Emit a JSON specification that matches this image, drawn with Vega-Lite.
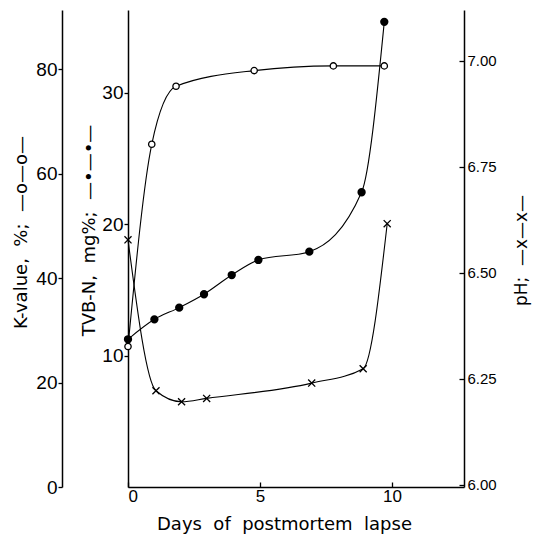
{
  "$schema": "https://vega.github.io/schema/vega-lite/v6.json",
  "width": 336,
  "height": 477,
  "autosize": {"type": "none"},
  "padding": {"left": 128, "top": 10, "right": 76, "bottom": 55},
  "background": "white",
  "config": {
    "view": {"stroke": null},
    "axis": {
      "domainColor": "black", "tickColor": "black", "labelColor": "black", "titleColor": "black",
      "grid": false, "labelFont": "Liberation Sans", "titleFont": "DejaVu Sans",
      "domainWidth": 1.5, "tickWidth": 1.3, "titleFontWeight": "normal"
    }
  },
  "datasets": {
    "kvalue": [
      {"day": 0, "k": 26.9}, {"day": 0.9, "k": 65.6}, {"day": 1.82, "k": 76.7},
      {"day": 4.78, "k": 79.7}, {"day": 7.78, "k": 80.6}, {"day": 9.71, "k": 80.6}
    ],
    "tvbn": [
      {"day": 0, "tvbn": 11.24}, {"day": 1.0, "tvbn": 12.76}, {"day": 1.94, "tvbn": 13.65},
      {"day": 2.88, "tvbn": 14.67}, {"day": 3.93, "tvbn": 16.13}, {"day": 4.94, "tvbn": 17.28},
      {"day": 6.87, "tvbn": 17.91}, {"day": 8.85, "tvbn": 22.43}, {"day": 9.71, "tvbn": 35.4}
    ],
    "ph": [
      {"day": 0, "ph": 6.578}, {"day": 1.06, "ph": 6.222}, {"day": 2.03, "ph": 6.196},
      {"day": 2.98, "ph": 6.204}, {"day": 6.96, "ph": 6.24}, {"day": 8.91, "ph": 6.274},
      {"day": 9.82, "ph": 6.616}
    ]
  },
  "layer": [
    {
      "data": {"name": "kvalue"},
      "mark": {
        "type": "line", "interpolate": "monotone", "color": "black", "strokeWidth": 1.1,
        "point": {"filled": true, "fill": "white", "stroke": "black", "strokeWidth": 1.3, "size": 40}
      },
      "encoding": {
        "x": {
          "field": "day", "type": "quantitative",
          "scale": {"domain": [0, 12.73], "nice": false, "zero": false},
          "axis": {
            "values": [0, 5, 10], "title": "Days\u00a0\u00a0of\u00a0\u00a0postmortem\u00a0\u00a0lapse", "titleFontSize": 18,
            "labelFontSize": 17, "tickSize": -5, "labelPadding": 6, "titlePadding": 11,
            "titleX": 156
          }
        },
        "y": {
          "field": "k", "type": "quantitative",
          "scale": {"domain": [0, 91.3], "nice": false, "zero": false},
          "axis": {
            "orient": "left", "offset": 66, "values": [0, 20, 40, 60, 80],
            "title": "K-value,\u00a0\u00a0%;\u00a0\u00a0—o—o—", "titleFontSize": 18, "labelFontSize": 19,
            "tickSize": 4, "labelPadding": 1, "titlePadding": 5, "titleY": 222
          }
        }
      }
    },
    {
      "data": {"name": "tvbn"},
      "mark": {
        "type": "line", "interpolate": "monotone", "color": "black", "strokeWidth": 1.1,
        "point": {"filled": true, "fill": "black", "stroke": "black", "size": 40}
      },
      "encoding": {
        "x": {
          "field": "day", "type": "quantitative",
          "scale": {"domain": [0, 12.73], "nice": false, "zero": false},
          "axis": {
            "values": [0, 5, 10], "title": "Days\u00a0\u00a0of\u00a0\u00a0postmortem\u00a0\u00a0lapse", "titleFontSize": 18,
            "labelFontSize": 17, "tickSize": -5, "labelPadding": 6, "titlePadding": 11,
            "titleX": 156
          }
        },
        "y": {
          "field": "tvbn", "type": "quantitative",
          "scale": {"domain": [0, 36.3], "nice": false, "zero": false},
          "axis": {
            "orient": "left", "offset": 0, "values": [10, 20, 30],
            "title": "TVB-N,\u00a0\u00a0mg%;\u00a0\u00a0—•—•—", "titleFontSize": 18, "labelFontSize": 19,
            "tickSize": 4, "labelPadding": 1, "titlePadding": 3, "titleY": 220
          }
        }
      }
    },
    {
      "data": {"name": "ph"},
      "mark": {
        "type": "line", "interpolate": "monotone", "color": "black", "strokeWidth": 1.1,
        "point": {"shape": "M-1,-1L1,1M-1,1L1,-1", "filled": false, "stroke": "black", "strokeWidth": 1.3, "size": 50}
      },
      "encoding": {
        "x": {
          "field": "day", "type": "quantitative",
          "scale": {"domain": [0, 12.73], "nice": false, "zero": false},
          "axis": {
            "values": [0, 5, 10], "title": "Days\u00a0\u00a0of\u00a0\u00a0postmortem\u00a0\u00a0lapse", "titleFontSize": 18,
            "labelFontSize": 17, "tickSize": -5, "labelPadding": 6, "titlePadding": 11,
            "titleX": 156
          }
        },
        "y": {
          "field": "ph", "type": "quantitative",
          "scale": {"domain": [5.995, 7.12], "nice": false, "zero": false},
          "axis": {
            "orient": "right", "values": [6, 6.25, 6.5, 6.75, 7], "format": ".2f",
            "title": "pH;\u00a0\u00a0—x—x—", "titleFontSize": 17, "titleAngle": 270, "labelFontSize": 15,
            "tickSize": -5, "labelPadding": 8, "titlePadding": 34, "titleY": 240
          }
        }
      }
    }
  ],
  "resolve": {"scale": {"y": "independent"}, "axis": {"y": "independent"}}
}
